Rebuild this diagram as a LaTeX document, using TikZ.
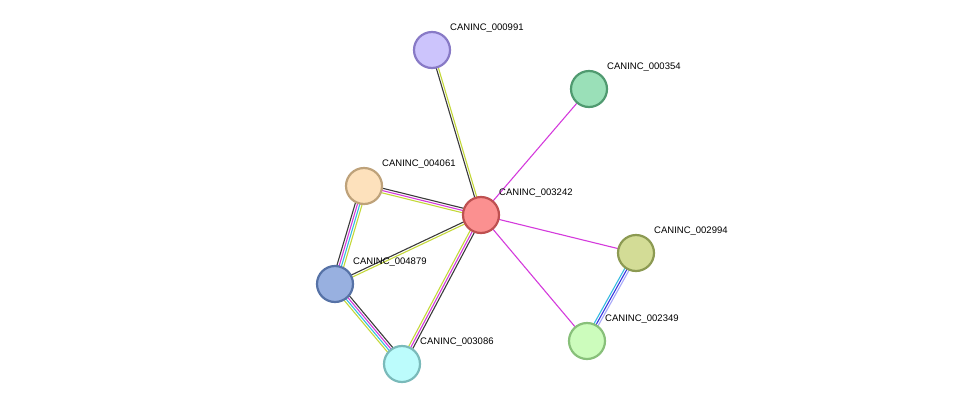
\documentclass[tikz,border=0pt]{standalone}
\usepackage{fontspec}
\setmainfont{Liberation Sans}
\usetikzlibrary{calc}
\definecolor{ek}{HTML}{3A3A3A}
\definecolor{ey}{HTML}{C4D83A}
\definecolor{em}{HTML}{D43ADC}
\definecolor{ec}{HTML}{38BCE0}
\definecolor{eb}{HTML}{3838E0}
\definecolor{el}{HTML}{A8A8F8}
\tikzset{
  prot/.style={circle,minimum size=36pt,inner sep=0pt,line width=2.2pt},
  lab/.style={anchor=west,font=\fontsize{9.5}{11}\selectfont,inner sep=0pt},
  ed/.style={line width=1.1pt}
}
\newcommand{\medge}[3]{%
  \foreach \c [count=\i] in {#3} {}%
  \edef\nn{\i}%
  \foreach \c [count=\i] in {#3} {
    \pgfmathsetmacro{\off}{(\i-(\nn+1)/2)*2.1}
    \draw[ed,\c] ($(#1)!\off pt!90:(#2)$) -- ($(#2)!\off pt!-90:(#1)$);
  }}
\begin{document}
\begin{tikzpicture}[x=1pt,y=-1pt]
\useasboundingbox (0,0) rectangle (976,410);
\coordinate (p991) at (432,50);
\coordinate (p354) at (589,89);
\coordinate (p4061) at (364,186);
\coordinate (p3242) at (481,215);
\coordinate (p2994) at (636,253);
\coordinate (p4879) at (335,284);
\coordinate (p2349) at (587,341);
\coordinate (p3086) at (402,364);
\foreach \c [count=\i] in {ek,ey} {\pgfmathsetmacro{\off}{(\i-1.5)*2.1}\draw[ed,\c] ($(p991)!\off pt!90:(p3242)$) -- ($(p3242)!\off pt!-90:(p991)$);}
\draw[ed,em] (p354) -- (p3242);
\draw[ed,em] (p2994) -- (p3242);
\draw[ed,em] (p2349) -- (p3242);
\foreach \c [count=\i] in {ek,em,ey} {\pgfmathsetmacro{\off}{(\i-2)*2.3}\draw[ed,\c] ($(p4061)!\off pt!-90:(p3242)$) -- ($(p3242)!\off pt!90:(p4061)$);}
\foreach \c [count=\i] in {ek,ey} {\pgfmathsetmacro{\off}{(\i-1.5)*2.3}\draw[ed,\c] ($(p3242)!\off pt!90:(p4879)$) -- ($(p4879)!\off pt!-90:(p3242)$);}
\foreach \c [count=\i] in {ek,em,ey} {\pgfmathsetmacro{\off}{(\i-2)*2.3}\draw[ed,\c] ($(p3242)!\off pt!-90:(p3086)$) -- ($(p3086)!\off pt!90:(p3242)$);}
\foreach \c [count=\i] in {ek,em,ec,ey} {\pgfmathsetmacro{\off}{(\i-2.5)*2.3}\draw[ed,\c] ($(p4061)!\off pt!90:(p4879)$) -- ($(p4879)!\off pt!-90:(p4061)$);}
\foreach \c [count=\i] in {ek,em,ec,ey} {\pgfmathsetmacro{\off}{(\i-2.5)*2.3}\draw[ed,\c] ($(p3086)!\off pt!90:(p4879)$) -- ($(p4879)!\off pt!-90:(p3086)$);}
\foreach \c [count=\i] in {ec,eb,el} {\pgfmathsetmacro{\off}{(\i-2)*2.3}\draw[ed,\c] ($(p2994)!\off pt!90:(p2349)$) -- ($(p2349)!\off pt!-90:(p2994)$);}
\node[prot,fill={rgb,255:red,204;green,196;blue,252},draw={rgb,255:red,136;green,122;blue,198}] (n991) at (p991) {};
\node[prot,fill={rgb,255:red,154;green,224;blue,184},draw={rgb,255:red,80;green,154;blue,112}] (n354) at (p354) {};
\node[prot,fill={rgb,255:red,253;green,225;blue,188},draw={rgb,255:red,190;green,162;blue,122}] (n4061) at (p4061) {};
\node[prot,fill={rgb,255:red,251;green,144;blue,144},draw={rgb,255:red,190;green,80;blue,80}] (n3242) at (p3242) {};
\node[prot,fill={rgb,255:red,211;green,220;blue,150},draw={rgb,255:red,140;green,154;blue,82}] (n2994) at (p2994) {};
\node[prot,fill={rgb,255:red,152;green,176;blue,224},draw={rgb,255:red,86;green,114;blue,166}] (n4879) at (p4879) {};
\node[prot,fill={rgb,255:red,204;green,252;blue,188},draw={rgb,255:red,136;green,192;blue,122}] (n2349) at (p2349) {};
\node[prot,fill={rgb,255:red,188;green,252;blue,252},draw={rgb,255:red,122;green,186;blue,186}] (n3086) at (p3086) {};
\node[lab] at ($(p991)+(18,-22)$) {CANINC\_000991};
\node[lab] at ($(p354)+(18,-22)$) {CANINC\_000354};
\node[lab] at ($(p4061)+(18,-22)$) {CANINC\_004061};
\node[lab] at ($(p3242)+(18,-22)$) {CANINC\_003242};
\node[lab] at ($(p2994)+(18,-22)$) {CANINC\_002994};
\node[lab] at ($(p4879)+(18,-22)$) {CANINC\_004879};
\node[lab] at ($(p2349)+(18,-22)$) {CANINC\_002349};
\node[lab] at ($(p3086)+(18,-22)$) {CANINC\_003086};
\end{tikzpicture}
\end{document}
